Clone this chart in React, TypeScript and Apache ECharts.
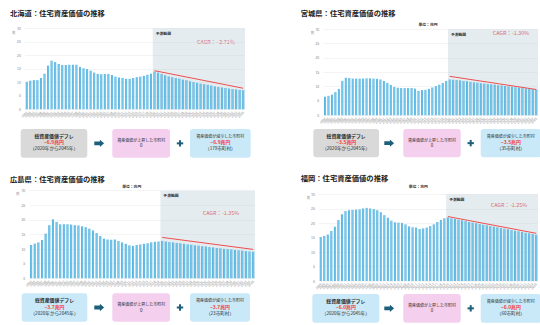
import React, { useEffect, useRef } from "react";
import * as echarts from "echarts";

// Fiscal years on the category axis (actuals through 2020, forecast to 2045)
const years: string[] = [];
for (let y = 1984; y <= 2045; y++) years.push(String(y));
const forecastFrom = "2020";
const forecastTo = "2045";

// Housing asset value, trillion yen
const hokkaidoActual = [10.2, 10.6, 10.8, 10.8, 11.6, 13.2, 16.2, 18.0, 17.5, 16.8, 16.4, 16.4, 16.5, 16.5, 16.5, 15.7, 15.2, 14.9, 14.3, 13.6, 13.1, 13.0, 13.1, 13.1, 12.7, 12.1, 11.8, 11.6, 11.3, 11.3, 11.6, 11.9, 12.1, 12.4, 12.8, 13.2, 14.0];
const hokkaidoForecast = [13.6, 13.1, 12.6, 12.2, 11.9, 11.6, 11.4, 11.0, 10.8, 10.4, 10.1, 9.8, 9.5, 9.3, 9.1, 8.8, 8.5, 8.3, 8.1, 7.9, 7.7, 7.5, 7.4, 7.2, 7.1];
const miyagiActual = [6.5, 6.8, 7.2, 8.1, 9.2, 12.0, 13.1, 13.0, 12.8, 12.8, 12.8, 12.8, 12.9, 12.9, 12.8, 12.7, 12.5, 12.0, 11.3, 10.6, 9.9, 9.6, 9.5, 9.5, 9.5, 9.5, 9.3, 8.5, 8.8, 8.9, 9.2, 9.7, 10.2, 10.7, 11.3, 12.0, 12.5];
const miyagiForecast = [12.4, 12.3, 12.2, 12.0, 11.9, 11.7, 11.5, 11.4, 11.2, 11.1, 10.9, 10.8, 10.7, 10.5, 10.4, 10.2, 10.1, 10.0, 9.8, 9.7, 9.6, 9.4, 9.3, 9.1, 9.0];
const hiroshimaActual = [11.4, 11.9, 12.3, 13.1, 15.3, 18.2, 20.2, 19.3, 18.5, 18.5, 18.5, 18.4, 18.2, 18.1, 17.8, 17.5, 17.0, 16.4, 15.5, 14.5, 13.6, 13.3, 13.2, 13.3, 12.8, 12.3, 11.8, 11.3, 11.1, 11.4, 11.6, 11.8, 12.0, 12.3, 12.5, 12.6, 12.8];
const hiroshimaForecast = [12.6, 12.4, 12.3, 12.1, 12.0, 11.8, 11.6, 11.5, 11.3, 11.2, 11.0, 10.9, 10.7, 10.6, 10.4, 10.3, 10.1, 10.0, 9.9, 9.7, 9.6, 9.5, 9.3, 9.2, 9.1];
const fukuokaActual = [15.2, 15.6, 16.1, 17.3, 18.8, 21.1, 23.1, 24.2, 24.5, 24.6, 24.7, 24.8, 25.1, 25.3, 25.1, 24.9, 24.5, 23.8, 22.8, 21.9, 20.9, 20.3, 20.2, 20.1, 19.6, 18.9, 18.6, 18.5, 18.0, 18.2, 18.5, 19.0, 19.6, 20.4, 21.1, 21.7, 22.0];
const fukuokaForecast = [21.7, 21.5, 21.2, 21.0, 20.8, 20.4, 20.2, 20.0, 19.7, 19.5, 19.3, 19.0, 18.8, 18.6, 18.3, 18.1, 17.9, 17.6, 17.4, 17.2, 17.0, 16.7, 16.5, 16.3, 16.0];

// Trend line (CAGR) endpoints at 2020 and 2045
const trendStart = [14.3, 13.6, 14.0, 22.3];
const trendEnd = [7.8, 9.0, 9.9, 16.5];

const yTicks = { min: 0, max: 30, interval: 5 };

const regionTitles = [
  "北海道：住宅資産価値の推移",
  "宮城県：住宅資産価値の推移",
  "広島県：住宅資産価値の推移",
  "福岡：住宅資産価値の推移",
];
const cagrLabels = ["CAGR：−2.71％", "CAGR：-1.30%", "CAGR：-1.35%", "CAGR：-1.25%"];
const totalDeflation = ["−6.9兆円", "−3.5兆円", "−3.7兆円", "−6.0兆円"];
const risingCount = ["0", "0", "0", "0"];
const fallingAmount = ["−6.9兆円", "−3.5兆円", "−3.7兆円", "−6.0兆円"];
const fallingCount = ["（179市町村）", "（35市町村）", "（23市町村）", "（60市町村）"];
const showUnit = [false, true, true, true];

const regionValues = [
  hokkaidoActual.concat(hokkaidoForecast),
  miyagiActual.concat(miyagiForecast),
  hiroshimaActual.concat(hiroshimaForecast),
  fukuokaActual.concat(fukuokaForecast),
];

// Page layout for each of the four panels
const layouts = [
  { title: [10, 13], unit: [135, 24], yUnit: [12, 32], grid: { left: 25, top: 28.3, width: 220, height: 81 }, cagr: [197, 42], boxY: 129, boxH: 28.7, box1: [20.7, 66.6], box1Fill: "#d9d9d9", arrowX: 94.3, box2: [112.3, 57.7], plusX: 180, box3: [190, 60.7] },
  { title: [300.7, 13.3], unit: [428, 24], yUnit: [310.7, 32.3], grid: { left: 323.3, top: 29.3, width: 214.7, height: 86 }, cagr: [492.7, 33.3], boxY: 129, boxH: 28.3, box1: [313.3, 65.7], box1Fill: "#d9d9d9", arrowX: 384.3, box2: [403.3, 57.4], plusX: 470.7, box3: [480.7, 60.3] },
  { title: [10, 179], unit: [131.7, 186.7], yUnit: [16, 193.3], grid: { left: 29.3, top: 190.7, width: 225.7, height: 87.6 }, cagr: [202.7, 212.7], boxY: 293.3, boxH: 28.4, box1: [21.7, 65.6], box1Fill: "#c9e9f8", arrowX: 94.3, box2: [112.3, 57.7], plusX: 180, box3: [190, 60] },
  { title: [300.7, 178.3], unit: [418.3, 186.7], yUnit: [306.7, 197.3], grid: { left: 319, top: 194.3, width: 219, height: 86.7 }, cagr: [490.7, 205], boxY: 294, boxH: 28.7, box1: [312.3, 67], box1Fill: "#c9e9f8", arrowX: 384.3, box2: [403.3, 57.4], plusX: 470.7, box3: [480.7, 60.3] },
];

const FONT = "'Noto Sans CJK JP', 'Noto Sans', sans-serif";
const RED = "#f23c3c";
const DARK = "#2b2b2b";
const TEAL = "#1e5f7c";

function txt(x: number, y: number, text: string, size: number, opts: any = {}) {
  return {
    type: "text",
    x,
    y,
    silent: true,
    style: {
      text,
      fontSize: size,
      fontFamily: FONT,
      fontWeight: opts.weight || "normal",
      fill: opts.color || DARK,
      align: opts.align || "left",
      textAlign: opts.align || "left",
      verticalAlign: "middle",
      textVerticalAlign: "middle",
    },
  };
}

function rect(x: number, y: number, w: number, h: number, fill: string, r = 3) {
  return { type: "rect", silent: true, shape: { x, y, width: w, height: h, r }, style: { fill } };
}

function buildOption() {
  const grids: any[] = [];
  const xAxes: any[] = [];
  const yAxes: any[] = [];
  const series: any[] = [];
  const graphics: any[] = [];

  layouts.forEach((L, i) => {
    grids.push({ ...L.grid, containLabel: false });
    xAxes.push({
      type: "category",
      gridIndex: i,
      data: years,
      axisLine: { show: false },
      axisTick: { show: false },
      axisLabel: { interval: 0, rotate: 45, fontSize: 3.3, color: "#8f8f8f", margin: 2.5, fontFamily: FONT },
    });
    yAxes.push({
      type: "value",
      gridIndex: i,
      min: yTicks.min,
      max: yTicks.max,
      interval: yTicks.interval,
      axisLine: { show: false },
      axisTick: { show: false },
      axisLabel: { fontSize: 3.5, color: "#8a8a8a", margin: 4, fontFamily: FONT },
      splitLine: { lineStyle: { color: "#ececec", width: 0.6 } },
    });

    series.push({
      type: "bar",
      xAxisIndex: i,
      yAxisIndex: i,
      data: regionValues[i],
      barWidth: "58%",
      itemStyle: {
        color: new echarts.graphic.LinearGradient(0, 0, 1, 0, [
          { offset: 0, color: "#3aa6da" },
          { offset: 0.5, color: "#7cc9ec" },
          { offset: 1, color: "#4db0df" },
        ]),
      },
      markArea: {
        silent: true,
        itemStyle: { color: "rgba(180,200,212,0.34)" },
        label: {
          show: true,
          position: "insideTopLeft",
          distance: 3,
          formatter: "予測範囲",
          fontSize: 3.8,
          fontWeight: "bold",
          color: "#333",
          fontFamily: FONT,
        },
        data: [[{ xAxis: forecastFrom }, {}]],
      },
      z: 2,
    });

    const trend = years.map((y) =>
      y === forecastFrom ? trendStart[i] : y === forecastTo ? trendEnd[i] : null
    );
    series.push({
      type: "line",
      xAxisIndex: i,
      yAxisIndex: i,
      data: trend,
      connectNulls: true,
      symbol: "none",
      lineStyle: { color: "#ee4f4f", width: 1 },
      z: 5,
    });

    // Headings and chart annotations
    graphics.push(txt(L.title[0], L.title[1], regionTitles[i], 7.3, { weight: "bold", color: "#222" }));
    if (showUnit[i]) graphics.push(txt(L.unit[0], L.unit[1], "単位：兆円", 3.8, { weight: "bold", align: "center", color: "#333" }));
    graphics.push(txt(L.yUnit[0], L.yUnit[1], "兆", 3.3, { color: "#777" }));
    graphics.push(txt(L.cagr[0], L.cagr[1], cagrLabels[i], 5.4, { color: RED }));

    // Summary boxes below the chart
    const by = L.boxY;
    const bh = L.boxH;
    graphics.push(rect(L.box1[0], by, L.box1[1], bh, L.box1Fill));
    const c1 = L.box1[0] + L.box1[1] / 2;
    graphics.push(txt(c1, by + 6.6, "総資産価値デフレ", 4.9, { align: "center", weight: "bold" }));
    graphics.push(txt(c1, by + 12.8, totalDeflation[i], 4.9, { align: "center", weight: "bold", color: RED }));
    graphics.push(txt(c1, by + 19.3, "（2020年から2045年）", 4.6, { align: "center" }));

    const ay = by + bh / 2;
    const ax = L.arrowX;
    graphics.push({
      type: "polygon",
      silent: true,
      shape: {
        points: [
          [ax, ay - 1.9], [ax + 5.6, ay - 1.9], [ax + 5.6, ay - 3.7], [ax + 9.8, ay],
          [ax + 5.6, ay + 3.7], [ax + 5.6, ay + 1.9], [ax, ay + 1.9],
        ],
      },
      style: { fill: TEAL },
    });

    graphics.push(rect(L.box2[0], by, L.box2[1], bh, "#f4cfee"));
    const c2 = L.box2[0] + L.box2[1] / 2;
    graphics.push(txt(c2, by + 10.9, "資産価値が上昇した市町村", 4.0, { align: "center" }));
    graphics.push(txt(c2, by + 16.4, risingCount[i], 4.4, { align: "center" }));

    graphics.push(rect(L.plusX - 3.2, ay - 1, 6.4, 2, TEAL, 0));
    graphics.push(rect(L.plusX - 1, ay - 3.2, 2, 6.4, TEAL, 0));

    graphics.push(rect(L.box3[0], by, L.box3[1], bh, "#c9e9f8"));
    const c3 = L.box3[0] + L.box3[1] / 2;
    graphics.push(txt(c3, by + 6.6, "資産価値が減少した市町村", 4.0, { align: "center" }));
    graphics.push(txt(c3, by + 12.8, fallingAmount[i], 4.9, { align: "center", weight: "bold", color: RED }));
    graphics.push(txt(c3, by + 19.3, fallingCount[i], 4.6, { align: "center" }));
  });

  return {
    animation: false,
    backgroundColor: "#ffffff",
    textStyle: { fontFamily: FONT },
    grid: grids,
    xAxis: xAxes,
    yAxis: yAxes,
    series,
    graphic: { elements: graphics },
  };
}

export default function App() {
  const ref = useRef<HTMLDivElement>(null);
  useEffect(() => {
    if (!ref.current) return;
    const chart = echarts.init(ref.current, undefined, { renderer: "svg" });
    chart.setOption(buildOption() as any);
    return () => chart.dispose();
  }, []);
  return (
    <div
      ref={ref}
      style={{ position: "absolute", left: 0, top: 0, width: 540, height: 325, background: "#fff" }}
    />
  );
}
